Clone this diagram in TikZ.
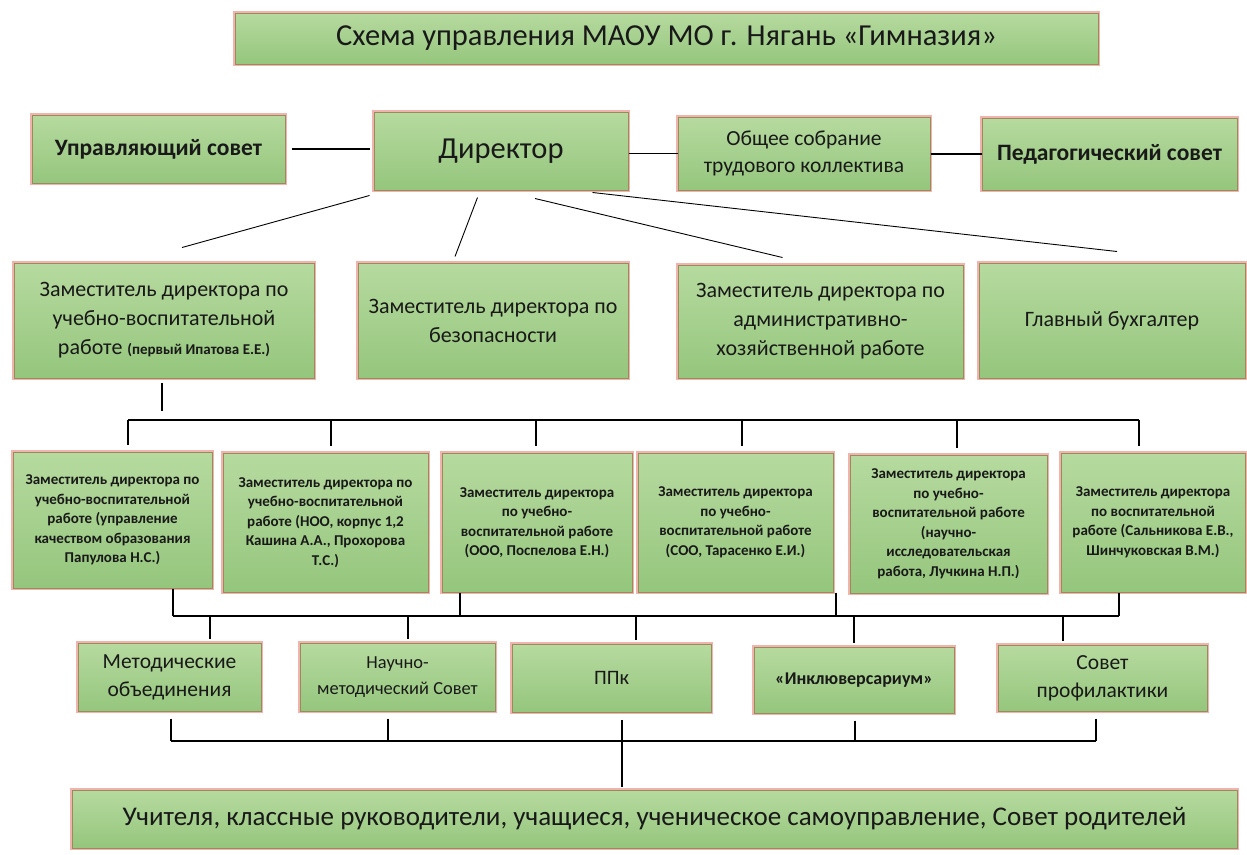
\documentclass[tikz,border=0pt]{standalone}
\usepackage{fontspec}
\setmainfont{Carlito}
\usetikzlibrary{calc}
\definecolor{gtop}{HTML}{B6DA9F}
\definecolor{gbot}{HTML}{95C67D}
\definecolor{bord}{HTML}{9A8A5E}
\definecolor{glow}{HTML}{F0B4AC}
\tikzset{
  box/.style={rectangle, draw=bord, line width=1pt, top color=gtop, bottom color=gbot,
    align=center, inner sep=2pt, text=black!90,
    preaction={draw=glow, line width=3.5pt}},
  conn/.style={draw=black, line width=1.1pt},
  fA/.style={font=\fontsize{30.5}{34}\selectfont},
  fDir/.style={font=\fontsize{30.5}{34}\selectfont},
  fB/.style={font=\bfseries\fontsize{23.5}{28}\selectfont},
  fR/.style={font=\fontsize{21.5}{27}\selectfont},
  fZ/.style={font=\fontsize{22}{29}\selectfont},
  fS/.style={font=\bfseries\fontsize{15}{19.5}\selectfont},
  fM/.style={font=\fontsize{21.5}{28}\selectfont},
}
\begin{document}
\begin{tikzpicture}[x=1pt,y=-1pt]
\useasboundingbox[fill=white] (0,0) rectangle (1247,854);
% title
\node[box,fA,minimum width=863,minimum height=51] (title) at (666.5,38.5) {Схема управления МАОУ МО г. Нягань «Гимназия»};
% row 1
\node[box,fB,minimum width=253,minimum height=68] (upr) at (158.5,149) {Управляющий совет};
\node[box,fDir,minimum width=254,minimum height=78] (dir) at (501,151) {Директор};
\node[box,fR,minimum width=252,minimum height=73] (obs) at (804,153.5) {Общее собрание\\трудового коллектива};
\node[box,fB,minimum width=255,minimum height=72] (ped) at (1109.5,154) {Педагогический совет};
% row 2
\node[box,fZ,minimum width=300,minimum height=115] (zA) at (164,320.5) {Заместитель директора по\\учебно-воспитательной\\работе {\bfseries\fontsize{15}{16}\selectfont(первый Ипатова Е.Е.)}};
\node[box,fZ,minimum width=270,minimum height=115] (zB) at (493,320.5) {Заместитель директора по\\безопасности};
\node[box,fZ,minimum width=285,minimum height=113] (zC) at (820.5,321.5) {Заместитель директора по\\административно-\\хозяйственной работе};
\node[box,fZ,minimum width=266,minimum height=115] (zD) at (1112,320.5) {Главный бухгалтер};
% row 3
\node[box,fS,minimum width=199,minimum height=136] (r1) at (112.5,520) {Заместитель директора по\\учебно-воспитательной\\работе (управление\\качеством образования\\Папулова Н.С.)};
\node[box,fS,minimum width=205,minimum height=139] (r2) at (325.5,522.5) {Заместитель директора по\\учебно-воспитательной\\работе (НОО, корпус 1,2\\Кашина А.А., Прохорова\\Т.С.)};
\node[box,fS,minimum width=190,minimum height=139] (r3) at (537,522.5) {Заместитель директора\\по учебно-\\воспитательной работе\\(ООО, Поспелова Е.Н.)};
\node[box,fS,minimum width=195,minimum height=139] (r4) at (735.5,522.5) {Заместитель директора\\по учебно-\\воспитательной работе\\(СОО, Тарасенко Е.И.)};
\node[box,fS,minimum width=197,minimum height=138] (r5) at (948.5,524) {Заместитель директора\\по учебно-\\воспитательной работе\\(научно-\\исследовательская\\работа, Лучкина Н.П.)};
\node[box,fS,minimum width=184,minimum height=139] (r6) at (1153,522.5) {Заместитель директора\\по воспитательной\\работе (Сальникова Е.В.,\\Шинчуковская В.М.)};
% row 4
\node[box,fM,minimum width=183,minimum height=68] (m1) at (169.5,677) {Методические\\объединения};
\node[box,font=\fontsize{18.4}{26}\selectfont,minimum width=195,minimum height=68] (m2) at (397.5,677) {Научно-\\методический Совет};
\node[box,font=\fontsize{20.5}{24}\selectfont,minimum width=199,minimum height=68] (m3) at (611.5,678) {ППк};
\node[box,font=\bfseries\fontsize{18}{22}\selectfont,minimum width=200,minimum height=66] (m4) at (854,680) {«Инклюверсариум»};
\node[box,fM,minimum width=209,minimum height=66] (m5) at (1102.5,678) {Совет\\профилактики};
% bottom
\node[box,font=\fontsize{27}{32}\selectfont,minimum width=1165,minimum height=58] (bot) at (654.5,819) {Учителя, классные руководители, учащиеся, ученическое самоуправление, Совет родителей};

% row 1 links
\draw[conn] ($(upr.east)+(6,0)$) -- ($(upr.east -| dir.west)+(-4,0)$);
\draw[conn] (dir.east |- obs.west) -- (obs.west);
\draw[conn] (obs.east |- ped.west) -- (ped.west);
% diagonals
\draw[conn,line width=0.9pt] ($(dir.south west)+(-4,5)$) -- ($(zA.north)+(18,-15)$);
\draw[conn,line width=0.9pt] ($(dir.south west)+(104,7)$) -- ($(zB.north)+(-38,-6)$);
\draw[conn,line width=0.9pt] ($(dir.south)+(34,8)$) -- ($(zC.north)+(-38,-7)$);
\draw[conn,line width=0.9pt] ($(dir.south east)+(-36,2)$) -- ($(zD.north)+(5,-11)$);
% bus 1
\coordinate (b1) at (128,420);
\coordinate (b2) at (331,420);
\coordinate (b3) at (536,420);
\coordinate (b4) at (742,420);
\coordinate (b5) at (957,420);
\coordinate (b6) at (1139,420);
\draw[conn] ($(zA.south)+(-2,4)$) -- ($(zA.south)+(-2,32)$);
\draw[conn] (b1) -- (b6);
\foreach \b/\r in {b1/r1,b2/r2,b3/r3,b4/r4,b5/r5,b6/r6}
  \draw[conn,shorten >=7pt] (\b) -- (\b |- \r.north);
% bus 2
\coordinate (u1) at (173,616);
\coordinate (u3) at (460,616);
\coordinate (u4) at (836,616);
\coordinate (u6) at (1119,616);
\draw[conn] (u1) -- (u6);
\foreach \u/\r in {u1/r1,u3/r3,u4/r4,u6/r6}
  \draw[conn] (\u |- \r.south) -- (\u);
\coordinate (v1) at (210,616);
\coordinate (v2) at (408,616);
\coordinate (v3) at (636,616);
\coordinate (v4) at (854,616);
\coordinate (v5) at (1063,616);
\foreach \v/\m in {v1/m1,v2/m2,v3/m3,v4/m4,v5/m5}
  \draw[conn,shorten >=4pt] (\v) -- (\v |- \m.north);
% bus 3
\coordinate (w1) at (171,741);
\coordinate (w2) at (388,741);
\coordinate (w3) at (622,741);
\coordinate (w4) at (855,741);
\coordinate (w5) at (1096,741);
\draw[conn] (w1) -- (w5);
\foreach \w/\m in {w1/m1,w2/m2,w4/m4,w5/m5}
  \draw[conn,shorten <=7pt] (\w |- \m.south) -- (\w);
\draw[conn,shorten <=7pt,shorten >=3pt] (w3 |- m3.south) -- (w3 |- bot.north);
\end{tikzpicture}
\end{document}
